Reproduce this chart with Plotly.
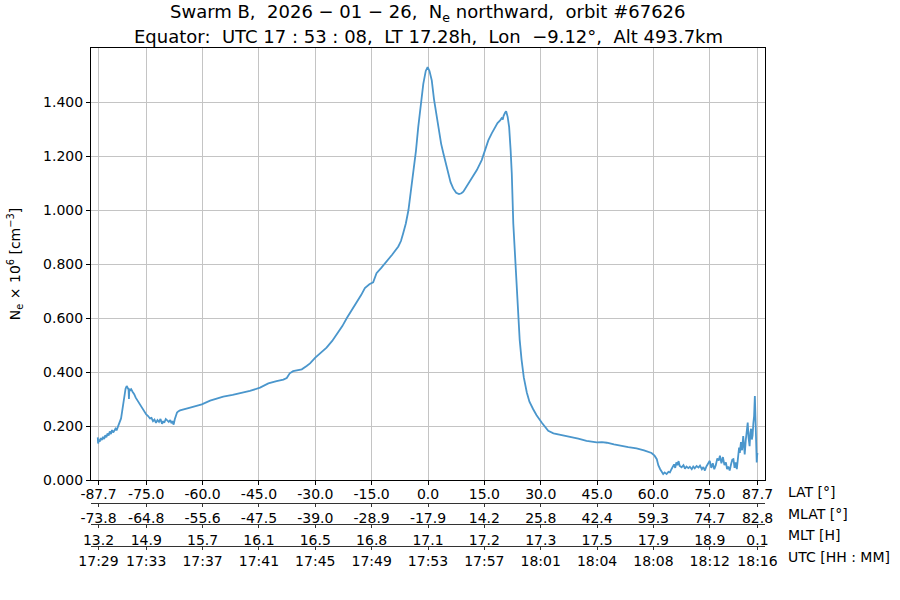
import plotly.graph_objects as go

# ---- data ----
lat = [
    -87.9, -87.8, -87.6, -87.4, -87.1, -86.8, -86.5, -86.2, -85.9, -85.6, -85.3, -85.0,
    -84.7, -84.4, -84.1, -83.8, -83.5, -83.2, -82.9, -82.6, -82.3, -82.0, -81.7, -81.4,
    -81.1, -80.8, -80.5, -80.2, -79.9, -79.7, -79.6, -79.5, -79.3, -79.0, -78.6, -78.2,
    -77.8, -77.4, -77.0, -76.5, -76.0, -75.5, -75.0, -74.5, -74.0, -73.6, -73.2, -72.8,
    -72.4, -72.0, -71.6, -71.2, -70.8, -70.5, -70.2, -69.8, -69.4, -69.0, -68.6, -68.3,
    -68.0, -67.7, -67.4, -67.1, -66.8, -66.4, -66.0,
    -63.3, -60.2, -58.0, -56.0, -54.5, -52.0, -50.0, -47.4, -44.7, -43.5, -42.5, -40.3,
    -38.5, -37.6, -36.8, -35.9, -34.5, -33.6, -32.3, -31.4, -30.0, -28.5, -27.0, -25.5,
    -23.9, -22.8, -21.6, -20.3, -19.0, -17.8, -16.8, -15.6, -14.6, -14.0, -13.7, -12.5,
    -11.0, -9.5, -7.9, -7.2, -6.6, -5.9, -5.2, -4.5, -3.9, -3.2, -2.6, -1.9,
    -1.25, -0.6, -0.1, 0.4, 1.0, 1.6, 2.3, 3.0, 3.5, 4.1, 4.8, 5.4,
    6.0, 6.7, 7.5, 8.25, 8.9, 9.4, 10.3, 11.2, 12.1, 13.0, 14.3, 15.2,
    16.05, 17.0, 17.8, 18.5, 19.2, 19.6, 19.9, 20.1, 20.5, 20.8, 21.2, 21.6,
    22.0, 22.3, 22.7, 23.0, 23.3, 23.6, 24.0, 24.4, 24.9, 25.5, 26.3, 27.0,
    28.0, 28.9, 30.3, 31.2, 32.0, 33.4, 35.1, 37.8, 40.0, 42.2, 44.9, 46.3,
    47.6, 49.5, 51.1, 53.3, 55.5, 57.5, 59.5, 60.3, 60.9, 61.3, 61.8, 62.2,
    62.6, 63.0, 63.5, 64.0, 64.4, 64.8, 65.2, 65.5, 65.8, 66.1, 66.4, 66.7,
    67.0, 67.5, 68.0, 68.4, 68.8, 69.3, 69.7, 70.2, 70.6, 71.0, 71.5, 72.0,
    72.4, 72.9, 73.3, 73.7, 74.1, 74.5, 75.0, 75.4, 75.8, 76.2, 76.6, 77.0,
    77.4, 77.7, 78.1, 78.5, 78.9, 79.3, 79.6, 79.9, 80.3, 80.7, 81.0, 81.3,
    81.6, 81.9, 82.2, 82.5, 82.8, 83.0, 83.3, 83.6, 83.9, 84.1, 84.3, 84.6,
    84.9, 85.1, 85.3, 85.6, 85.8, 86.0, 86.2, 86.4, 86.6, 86.8, 87.0, 87.1,
    87.2, 87.3, 87.4, 87.5, 87.6, 87.7,
]
ne = [
    0.158, 0.135, 0.150, 0.142, 0.155, 0.148, 0.160, 0.152, 0.166, 0.158, 0.172, 0.165,
    0.180, 0.170, 0.185, 0.176, 0.182, 0.190, 0.184, 0.195, 0.200, 0.212, 0.228, 0.255,
    0.285, 0.315, 0.338, 0.348, 0.342, 0.335, 0.300, 0.338, 0.332, 0.336, 0.326, 0.318,
    0.305, 0.296, 0.288, 0.276, 0.265, 0.255, 0.243, 0.237, 0.228, 0.230, 0.218, 0.224,
    0.212, 0.222, 0.215, 0.226, 0.208, 0.218, 0.212, 0.226, 0.220, 0.215, 0.222, 0.210,
    0.218, 0.205, 0.225, 0.240, 0.250, 0.255, 0.258,
    0.268, 0.280, 0.294, 0.302, 0.309, 0.315, 0.321, 0.330, 0.342, 0.350, 0.358, 0.366,
    0.372, 0.378, 0.395, 0.403, 0.406, 0.410, 0.422, 0.432, 0.453, 0.470, 0.490, 0.515,
    0.545, 0.570, 0.600, 0.628, 0.656, 0.685, 0.711, 0.725, 0.732, 0.752, 0.766, 0.785,
    0.809, 0.835, 0.865, 0.885, 0.914, 0.950, 1.000, 1.070, 1.135, 1.220, 1.307, 1.390,
    1.467, 1.515, 1.529, 1.515, 1.480, 1.410, 1.344, 1.283, 1.245, 1.209, 1.168, 1.135,
    1.103, 1.080, 1.064, 1.059, 1.062, 1.068, 1.088, 1.111, 1.130, 1.148, 1.185, 1.222,
    1.258, 1.285, 1.307, 1.322, 1.332, 1.340, 1.335, 1.348, 1.360, 1.366, 1.345, 1.307,
    1.220, 1.135, 0.951, 0.870, 0.791, 0.700, 0.606, 0.520, 0.446, 0.380, 0.324, 0.290,
    0.262, 0.240, 0.212, 0.195, 0.182, 0.173, 0.168, 0.161, 0.153, 0.145, 0.139, 0.140,
    0.138, 0.132, 0.127, 0.122, 0.117, 0.110, 0.100, 0.090, 0.077, 0.055, 0.040, 0.030,
    0.022, 0.028, 0.022, 0.030, 0.028, 0.040, 0.050, 0.058, 0.045, 0.065, 0.055, 0.070,
    0.052, 0.047, 0.055, 0.042, 0.050, 0.044, 0.049, 0.040, 0.050, 0.043, 0.052, 0.046,
    0.053, 0.040, 0.048, 0.035, 0.050, 0.060, 0.071, 0.045, 0.062, 0.040, 0.055, 0.080,
    0.072, 0.090, 0.062, 0.085, 0.055, 0.065, 0.040, 0.050, 0.035, 0.060, 0.075, 0.077,
    0.045, 0.065, 0.040, 0.080, 0.120, 0.100, 0.140, 0.110, 0.163, 0.130, 0.095, 0.150,
    0.185, 0.213, 0.160, 0.125, 0.175, 0.190, 0.150, 0.165, 0.210, 0.237, 0.311, 0.250,
    0.280, 0.200, 0.120, 0.065, 0.090, 0.100,
]

lat_ticks = [-87.7, -75.0, -60.0, -45.0, -30.0, -15.0, 0.0, 15.0, 30.0, 45.0, 60.0, 75.0, 87.7]
lat_labels = ["-87.7", "-75.0", "-60.0", "-45.0", "-30.0", "-15.0", "0.0", "15.0", "30.0",
              "45.0", "60.0", "75.0", "87.7"]
mlat_labels = ["-73.8", "-64.8", "-55.6", "-47.5", "-39.0", "-28.9", "-17.9", "14.2", "25.8",
               "42.4", "59.3", "74.7", "82.8"]
mlt_labels = ["13.2", "14.9", "15.7", "16.1", "16.5", "16.8", "17.1", "17.2", "17.3",
              "17.5", "17.9", "18.9", "0.1"]
utc_labels = ["17:29", "17:33", "17:37", "17:41", "17:45", "17:49", "17:53", "17:57", "18:01",
              "18:04", "18:08", "18:12", "18:16"]
row_names = ["LAT [°]", "MLAT [°]", "MLT [H]", "UTC [HH : MM]"]
y_ticks = [0.0, 0.2, 0.4, 0.6, 0.8, 1.0, 1.2, 1.4]

title1 = "Swarm B,  2026 − 01 − 26,  N<sub>e</sub> northward,  orbit #67626"
title2 = "Equator:  UTC 17 : 53 : 08,  LT 17.28h,  Lon  −9.12°,  Alt 493.7km"

# ---- figure ----
FONT = "DejaVu Sans"
XR = [-89.7, 89.7]
W, H = 900, 600
L, R, T, B = 91, 135, 48, 40
PH = H - T - B
PW = W - L - R


def ypaper(py):
    return (H - B - py) / PH


def xpaper(px):
    return (px - L) / PW


fig = go.Figure()
fig.add_trace(go.Scatter(x=lat, y=ne, mode="lines",
                         line=dict(color="#4a96cc", width=1.8),
                         showlegend=False, hoverinfo="skip"))

extra = [("x2", mlat_labels, 502.5), ("x3", mlt_labels, 524), ("x4", utc_labels, 545.5)]
axes = {}
for name, labels, py in extra:
    fig.add_trace(go.Scatter(x=lat_ticks, y=[None] * len(lat_ticks), xaxis=name, yaxis="y",
                             mode="markers", showlegend=False, hoverinfo="skip"))
    axes["xaxis" + name[1:]] = dict(
        overlaying="x", anchor="free", position=ypaper(py), side="bottom",
        range=XR, tickmode="array", tickvals=lat_ticks, ticktext=labels,
        showline=True, linecolor="#333333", linewidth=1, ticks="outside", ticklen=3,
        tickcolor="#333333", showgrid=False, zeroline=False, automargin=False,
        tickfont=dict(family=FONT, size=14, color="black"),
    )

fig.update_layout(
    width=W, height=H,
    margin=dict(l=L, r=R, t=T, b=B),
    paper_bgcolor="white", plot_bgcolor="white",
    font=dict(family=FONT, size=14, color="black"),
    xaxis=dict(range=XR, tickmode="array", tickvals=lat_ticks, ticktext=lat_labels,
               showline=True, linecolor="black", linewidth=1, mirror=True,
               ticks="outside", ticklen=4, tickcolor="black", automargin=False,
               ticklabelstandoff=-3,
               showgrid=True, gridcolor="#c4c4c4", gridwidth=1, zeroline=False,
               tickfont=dict(family=FONT, size=14, color="black")),
    yaxis=dict(domain=[ypaper(480), 1], range=[0, 1.6], tickmode="array", tickvals=y_ticks,
               tickformat=".3f", showline=True, linecolor="black", linewidth=1, mirror=True,
               ticks="outside", ticklen=4, tickcolor="black", automargin=False,
               showgrid=True, gridcolor="#c4c4c4", gridwidth=1, zeroline=False,
               tickfont=dict(family=FONT, size=14, color="black"),
               title=dict(text="N<sub>e</sub> × 10<sup>6</sup> [cm<sup>−3</sup>]",
                          font=dict(family=FONT, size=14), standoff=19)),
    **axes,
)

for name, py in zip(row_names, [492, 513.5, 535, 556.5]):
    fig.add_annotation(text=name, xref="paper", yref="paper",
                       x=xpaper(786), y=ypaper(py),
                       xanchor="left", yanchor="middle", showarrow=False,
                       font=dict(family=FONT, size=14, color="black"))

for txt, py in [(title1, 13), (title2, 36)]:
    fig.add_annotation(text=txt, xref="paper", yref="paper", x=0.5, y=ypaper(py),
                       xanchor="center", yanchor="middle", showarrow=False,
                       font=dict(family=FONT, size=18, color="black"))

fig.write_html("out.html",
               config={"displayModeBar": False},
               post_script="document.body.style.margin='0';document.body.style.padding='0';")
